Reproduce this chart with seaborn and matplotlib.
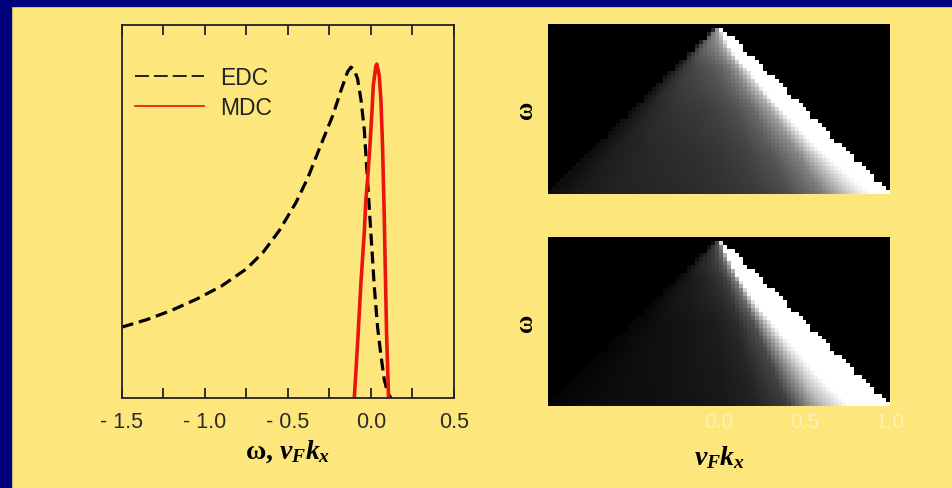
import numpy as np
import pandas as pd
import matplotlib
matplotlib.use("Agg")
import matplotlib.pyplot as plt
from matplotlib.patches import Rectangle
import seaborn as sns

# ---- line cuts: energy (EDC) and momentum (MDC) distribution curves ----
edc_w = [-1.5, -1.35, -1.2, -1.05, -0.9, -0.75, -0.65, -0.55, -0.45, -0.38,
         -0.3, -0.23, -0.18, -0.14, -0.12, -0.1, -0.08, -0.06, -0.04, -0.02,
         0.0, 0.02, 0.04, 0.06, 0.08, 0.10, 0.12]
edc_a = [0.19, 0.21, 0.235, 0.265, 0.30, 0.346, 0.39, 0.45, 0.525, 0.59,
         0.68, 0.757, 0.825, 0.875, 0.887, 0.88, 0.855, 0.80, 0.72, 0.58,
         0.44, 0.30, 0.19, 0.115, 0.05, 0.015, 0.0]

mdc_k = [-0.10, -0.08, -0.06, -0.04, -0.03, -0.02, -0.006, 0.006, 0.014, 0.03,
         0.036, 0.05, 0.06, 0.07, 0.074, 0.08, 0.086, 0.094, 0.106]
mdc_a = [0.0, 0.149, 0.31, 0.444, 0.534, 0.587, 0.676, 0.766, 0.837, 0.891,
         0.895, 0.864, 0.80, 0.676, 0.60, 0.489, 0.355, 0.176, 0.0]

x_ticks = [-1.5, -1.0, -0.5, 0.0, 0.5]
x_tick_labels = ["- 1.5", "- 1.0", "- 0.5", "0.0", "0.5"]

# ---- spectral maps: intensity across the cone |v_F k_x| <= |w| ----
# r = v_F k_x / |w| runs from -1 (left edge) to +1 (right edge)
cone_r = [-1.0, -0.8, -0.6, -0.4, -0.2, 0.0, 0.2, 0.4, 0.6, 0.8, 1.0]
upper_profile = [0.06, 0.14, 0.18, 0.20, 0.22, 0.25, 0.30, 0.40, 0.62, 1.15, 1.5]
lower_profile = [0.02, 0.05, 0.07, 0.08, 0.10, 0.12, 0.17, 0.32, 0.95, 1.4, 1.6]
# overall brightness against depth |w|
depth = [0.0, 0.1, 0.25, 0.5, 0.75, 1.0]
upper_depth = [3.0, 2.4, 1.5, 1.05, 0.85, 0.75]
lower_depth = [3.5, 2.6, 1.6, 1.0, 0.85, 0.75]
map_ticks = [0.0, 0.5, 1.0]
map_tick_labels = ["0.0", "0.5", "1.0"]

YELLOW = "#FDE77C"
NAVY = "#00007C"

plt.rcParams["lines.scale_dashes"] = False
plt.rcParams["mathtext.fontset"] = "custom"
plt.rcParams["mathtext.it"] = "Liberation Serif:italic:bold"
plt.rcParams["mathtext.rm"] = "Liberation Serif:bold"
plt.rcParams["mathtext.bf"] = "Liberation Serif:bold"
plt.rcParams["font.family"] = ["Liberation Sans", "DejaVu Sans"]

fig = plt.figure(figsize=(9.53, 4.89), dpi=100, facecolor=YELLOW)
fig.patches.append(Rectangle((0, 0), 11 / 953, 1, transform=fig.transFigure,
                             color=NAVY, zorder=0))
fig.patches.append(Rectangle((0, 1 - 7 / 489), 1, 7 / 489, transform=fig.transFigure,
                             color=NAVY, zorder=0))

# ---- left panel ----
ax = fig.add_axes([0.1277, 0.1840, 0.3487, 0.7628])
ax.set_facecolor(YELLOW)
df_edc = pd.DataFrame({"w": edc_w, "A": edc_a})
df_mdc = pd.DataFrame({"k": mdc_k, "A": mdc_a})
sns.lineplot(data=df_edc, x="w", y="A", ax=ax, color="black", linewidth=2.3,
             sort=False, label="EDC")
sns.lineplot(data=df_mdc, x="k", y="A", ax=ax, color="#E8160C", linewidth=2.6,
             sort=False, label="MDC")
ax.lines[0].set_linestyle((0, (8.6, 4.3)))
ax.set_xlim(-1.5, 0.5)
ax.set_ylim(0, 1)
ax.set_xticks(x_ticks)
ax.set_xticklabels(x_tick_labels)
ax.set_xticks(np.arange(-1.25, 0.5, 0.5), minor=True)
ax.set_yticks([])
ax.tick_params(axis="x", which="both", direction="in", length=7.5, width=1.3,
               top=True, color="#222222", labelsize=15.5, labelcolor="#2a2a2a", pad=9)
for s in ax.spines.values():
    s.set_color("#222222")
    s.set_linewidth(1.3)
ax.set_xlabel("ω, $v_F k_x$", fontsize=20, fontfamily="Liberation Serif",
              fontweight="bold", labelpad=4)
ax.set_ylabel("")
leg = ax.legend(loc="upper left", bbox_to_anchor=(0.04, 0.89), frameon=False,
                fontsize=16.5, handlelength=3.0, handletextpad=0.7,
                labelspacing=0.32, borderpad=0, borderaxespad=0)
for t in leg.get_texts():
    t.set_color("#222222")
hl = leg.get_lines()
hl[0].set_linewidth(1.2)
hl[0].set_linestyle((0, (10, 3.6)))
hl[1].set_linewidth(1.2)


def cone_map(profile, depth_gain, ncol=86, nrow=43):
    xs = -1 + (np.arange(ncol) + 0.5) * 2 / ncol
    ws = (np.arange(nrow) + 0.5) / nrow
    grid = np.zeros((nrow, ncol))
    for i, w in enumerate(ws):
        gain = np.interp(w, depth, depth_gain)
        for j, x in enumerate(xs):
            if abs(x) <= w:
                grid[i, j] = min(1.0, np.interp(x / w, cone_r, profile) * gain)
    return pd.DataFrame(grid)


for pos, prof, gain, show_ticks in [
        ([0.5753, 0.6012, 0.3585, 0.3476], upper_profile, upper_depth, False),
        ([0.5753, 0.1671, 0.3585, 0.3456], lower_profile, lower_depth, True)]:
    hx = fig.add_axes(pos)
    data = cone_map(prof, gain)
    ncol = data.shape[1]
    sns.heatmap(data, ax=hx, cmap="gray", vmin=0, vmax=1, cbar=False,
                xticklabels=False, yticklabels=False)
    hx.set_ylabel("ω", fontsize=18, fontfamily="Liberation Serif",
                  fontweight="bold", labelpad=8)
    hx.set_yticks([])
    if show_ticks:
        hx.set_xticks([(t + 1) / 2 * ncol for t in map_ticks])
        hx.set_xticklabels(map_tick_labels)
        hx.tick_params(axis="x", length=0, labelsize=15, labelcolor="#FFF1B8", pad=4)
        hx.set_xlabel("$v_F k_x$", fontsize=20, labelpad=9)
    else:
        hx.set_xticks([])
        hx.set_xlabel("")

fig.savefig("out.png", dpi=100, facecolor=YELLOW)
